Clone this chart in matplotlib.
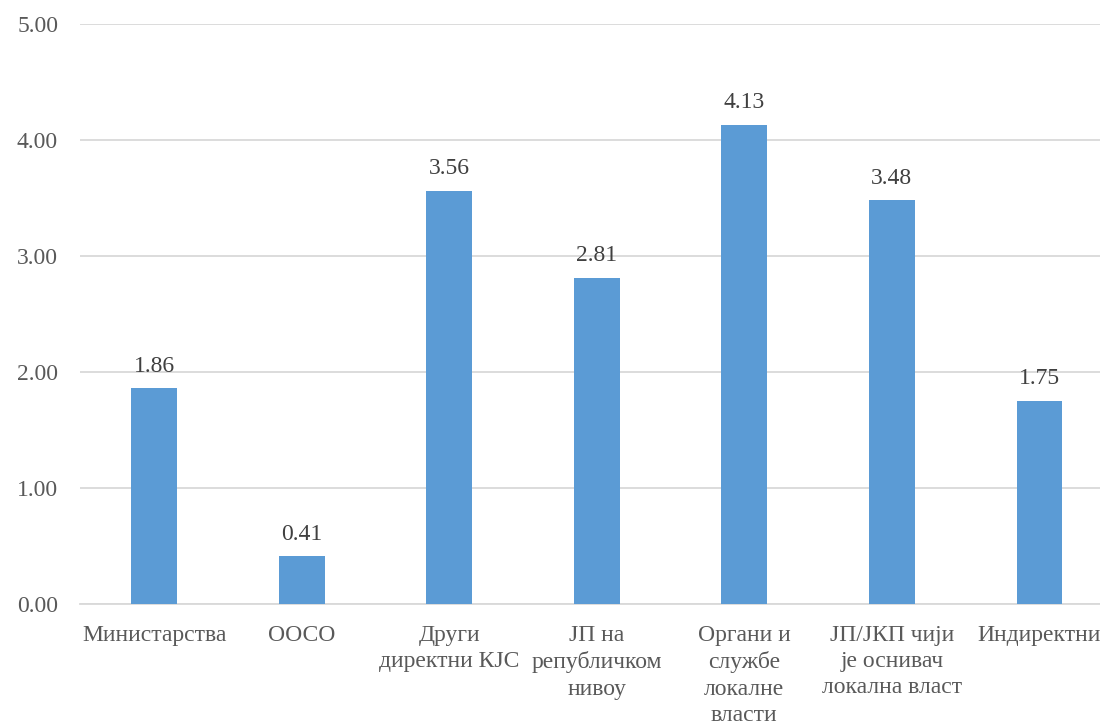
import matplotlib.pyplot as plt

categories = ['Министарства', 'ООСО', 'Други\nдиректни КЈС', 'ЈП на\nрепубличком\nнивоу',
              'Органи и\nслужбе\nлокалне\nвласти', 'ЈП/ЈКП чији\nје оснивач\nлокална власт',
              'Индиректни']
values = [1.86, 0.41, 3.56, 2.81, 4.13, 3.48, 1.75]
yticks = [0, 1, 2, 3, 4, 5]

plt.rcParams['font.family'] = ['Liberation Serif', 'DejaVu Serif']

fig = plt.figure(figsize=(11, 7.26), dpi=100)
ax = fig.add_axes([0.073, 0.168, 0.939, 0.799])

x = list(range(len(categories)))
ax.bar(x, values, width=0.31, color='#5B9BD5', zorder=3)
for xi, v in zip(x, values):
    ax.text(xi, v + 0.1, f'{v:.2f}', ha='center', va='bottom',
            fontsize=17, color='#404040')

ax.set_xlim(-0.5, len(categories) - 0.5)
ax.set_ylim(0, 5)
ax.set_yticks(yticks)
ax.set_yticklabels([f'{t:.2f}' for t in yticks])
ax.set_xticks(x)
ax.set_xticklabels(categories, linespacing=1.33)
ax.tick_params(axis='both', length=0, labelsize=17, colors='#595959')
ax.tick_params(axis='y', pad=16)
ax.tick_params(axis='x', pad=15)
ax.grid(axis='y', color='#D9D9D9', linewidth=1.3, zorder=0)
for s in ['top', 'right', 'left']:
    ax.spines[s].set_visible(False)
ax.spines['bottom'].set_color('#D9D9D9')
ax.spines['bottom'].set_linewidth(1.3)

fig.savefig('out.png', dpi=100)
